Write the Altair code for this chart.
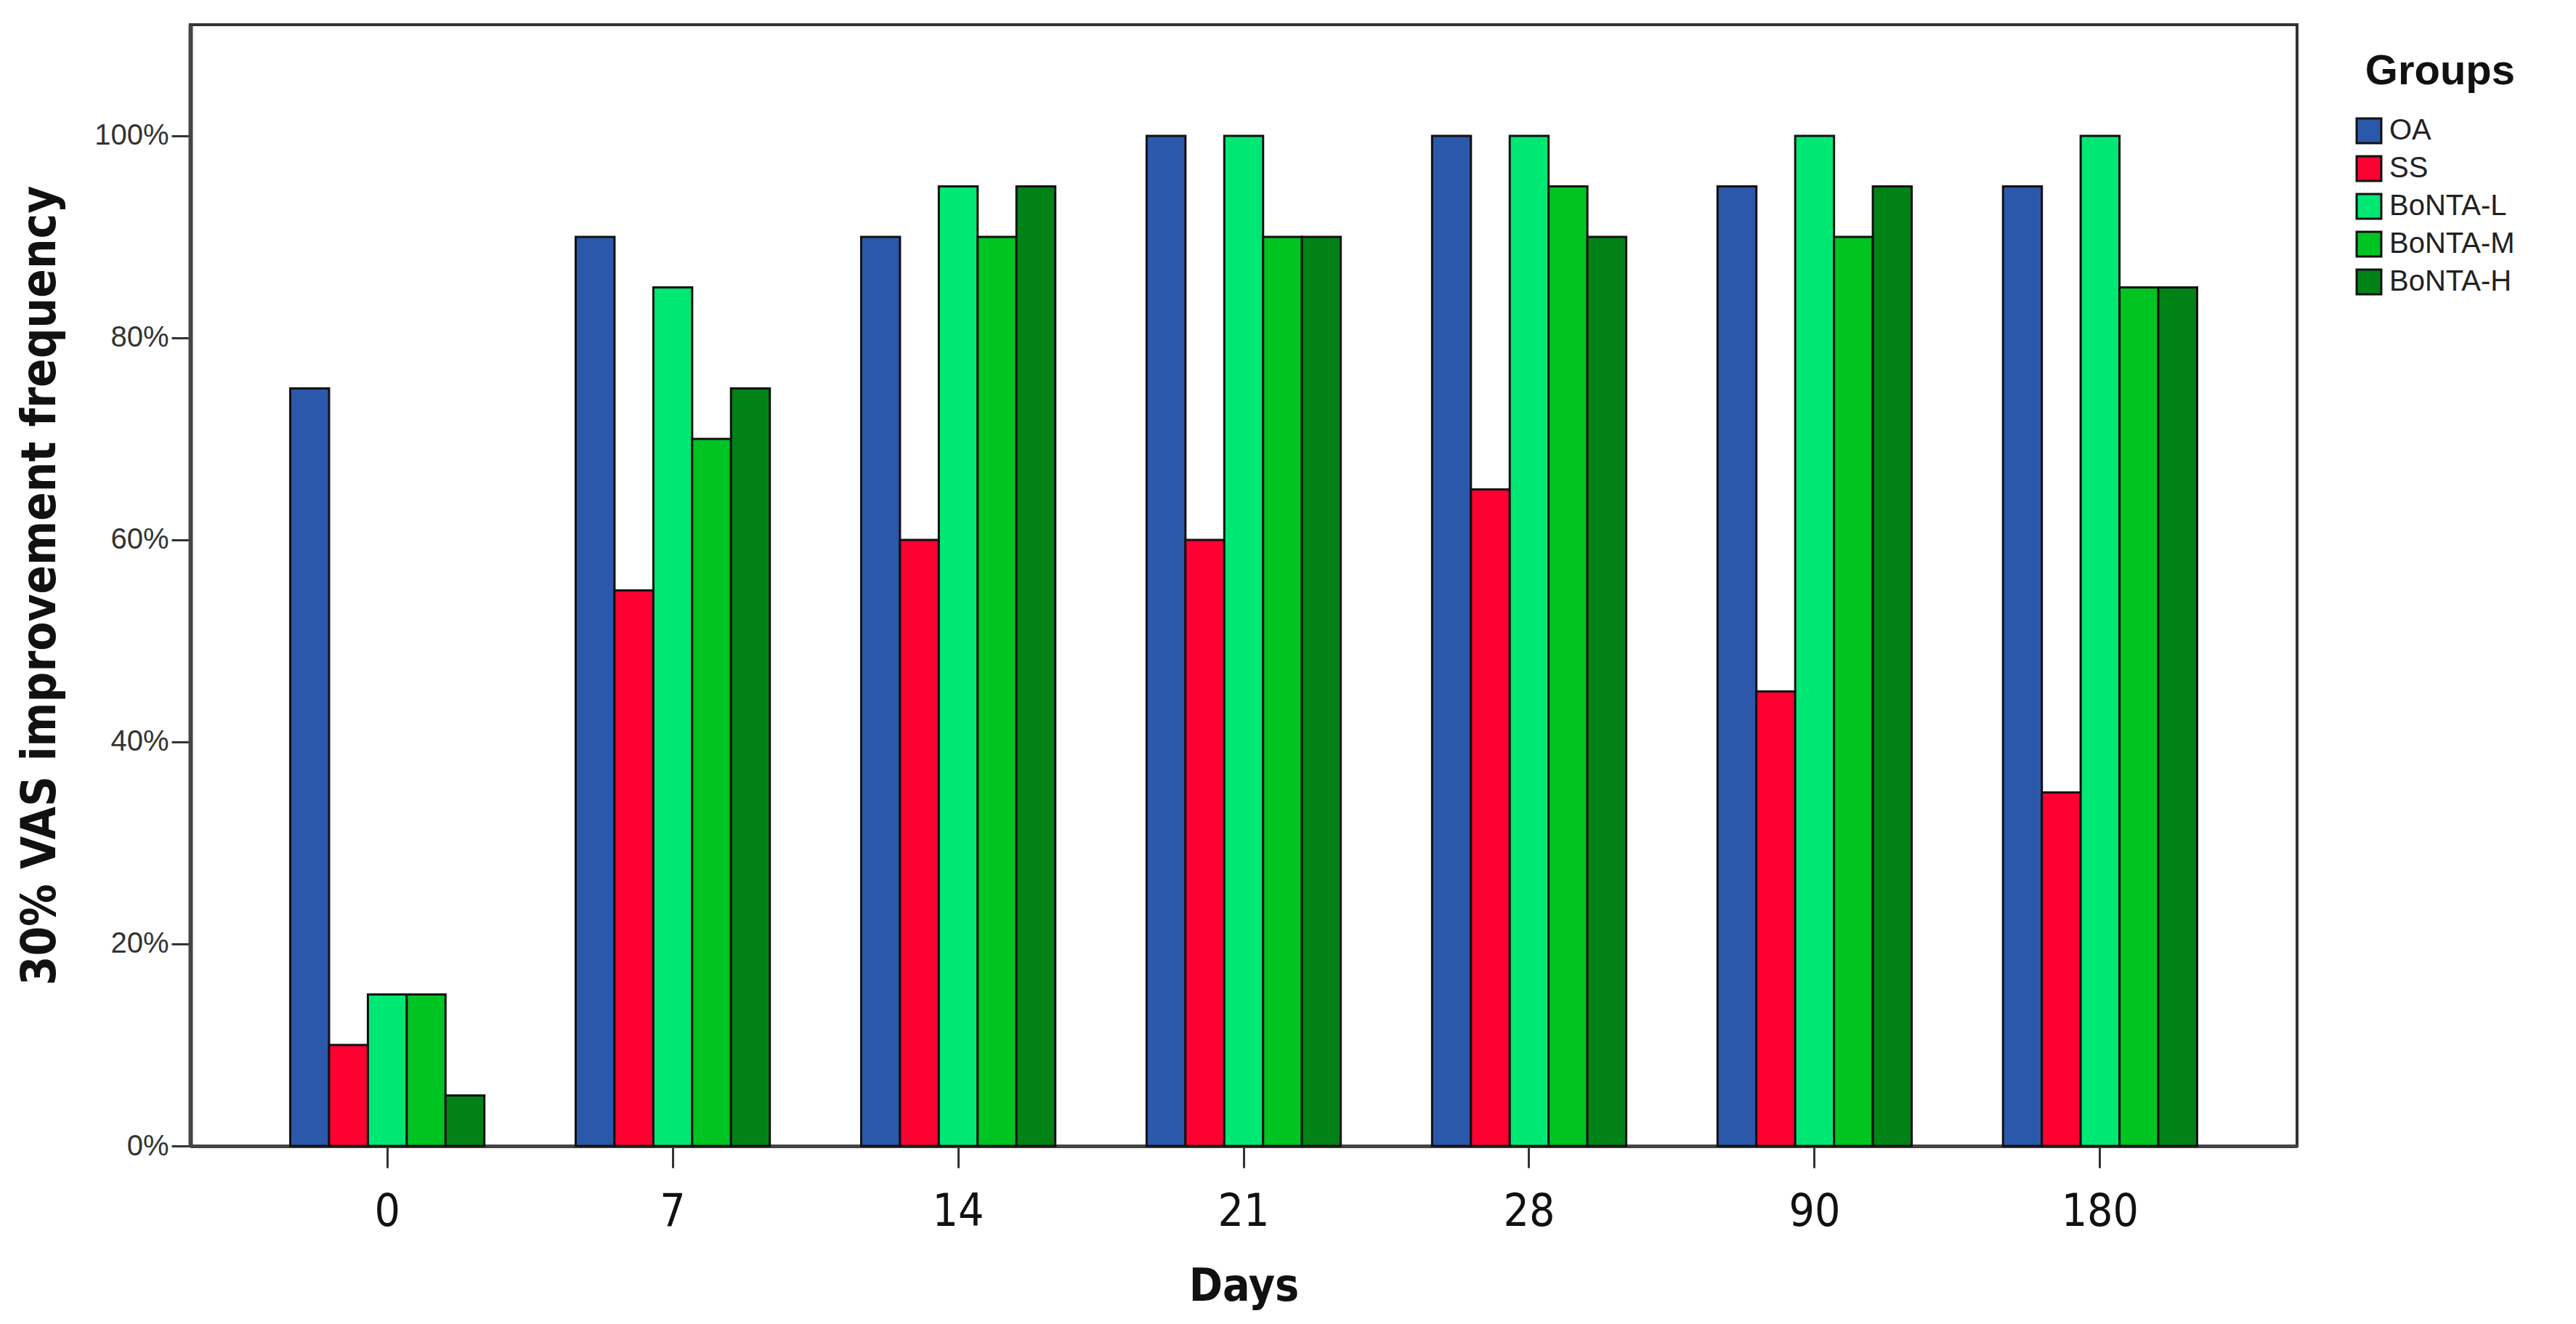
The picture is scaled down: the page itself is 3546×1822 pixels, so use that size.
import altair as alt
import pandas as pd

days = ["0", "7", "14", "21", "28", "90", "180"]
groups = ["OA", "SS", "BoNTA-L", "BoNTA-M", "BoNTA-H"]
colors = ["#2B58AA", "#FF0033", "#00E874", "#00C421", "#008217"]

oa = [75, 90, 90, 100, 100, 95, 95]
ss = [10, 55, 60, 60, 65, 45, 35]
bonta_l = [15, 85, 95, 100, 100, 100, 100]
bonta_m = [15, 70, 90, 90, 95, 90, 85]
bonta_h = [5, 75, 95, 90, 90, 95, 85]

series = [oa, ss, bonta_l, bonta_m, bonta_h]
rows = []
for g, vals in zip(groups, series):
    for d, v in zip(days, vals):
        rows.append({"Days": d, "Group": g, "value": v / 100})
df = pd.DataFrame(rows)

narrow = "Liberation Sans Narrow, DejaVu Sans Condensed, Arial Narrow, Liberation Sans, Arial"
regular = "Liberation Sans, Arial"

chart = alt.Chart(df).mark_bar(stroke="#111", strokeWidth=3).encode(
    x=alt.X("Days:N", sort=days,
            scale=alt.Scale(paddingInner=0.32, paddingOuter=0.35),
            axis=alt.Axis(title="Days", labelAngle=0, labelFont=narrow, labelFontSize=62,
                          labelColor="#111", labelPadding=30, tickSize=30, tickWidth=3,
                          tickColor="#333", domainColor="#444", domainWidth=5,
                          titleFont=narrow, titleFontSize=62, titleFontWeight="bold",
                          titleColor="#111", titlePadding=42)),
    xOffset=alt.XOffset("Group:N", sort=groups, scale=alt.Scale(paddingInner=0, paddingOuter=0)),
    y=alt.Y("value:Q", scale=alt.Scale(domain=[0, 1.11], nice=False),
            axis=alt.Axis(title="30% VAS improvement frequency", values=[0, 0.2, 0.4, 0.6, 0.8, 1.0],
                          format=".0%", labelFont=regular, labelFontSize=40,
                          labelColor="#333", labelPadding=4, tickSize=26, tickWidth=3,
                          tickColor="#333", domainColor="#444", domainWidth=6, grid=False,
                          titleFont=narrow, titleFontSize=65, titleFontWeight="bold",
                          titleColor="#111", titlePadding=40)),
    color=alt.Color("Group:N", sort=groups,
                    scale=alt.Scale(domain=groups, range=colors),
                    legend=alt.Legend(title="Groups", titleFontSize=58, titleFontWeight="bold",
                                      titleFont=regular, titleColor="#111", titleLimit=600,
                                      titleAnchor="end", titlePadding=32,
                                      labelFont=regular, labelFontSize=40, labelOffset=8,
                                      labelLimit=600,
                                      labelColor="#222", symbolType="square", symbolSize=1150,
                                      symbolStrokeColor="#111", symbolStrokeWidth=3,
                                      symbolOpacity=1, rowPadding=6,
                                      orient="none", legendX=2979, legendY=36)),
).properties(
    width=2900, height=1543,
    padding={"top": 26, "left": 15, "right": 5, "bottom": 5},
).configure(background="white").configure_view(stroke="#333", strokeWidth=4)

chart.save("out.html", embed_options={"renderer": "svg", "actions": False})
